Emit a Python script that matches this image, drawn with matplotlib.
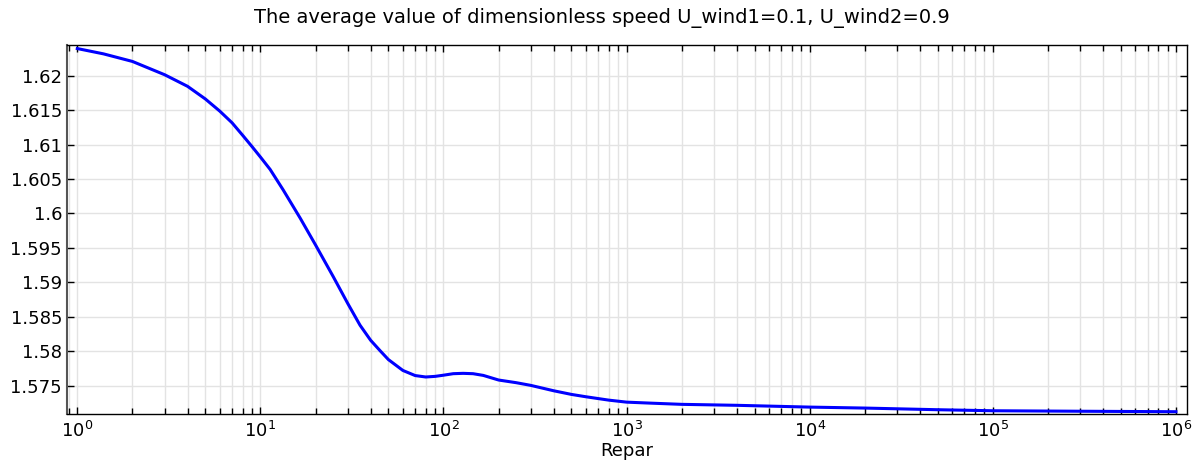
import matplotlib
matplotlib.use("Agg")
import matplotlib.pyplot as plt
from matplotlib.ticker import (LogLocator, FixedLocator, NullFormatter,
                               LogFormatterSciNotation)

# Average dimensionless speed versus Repar
repar = [1, 1.39, 2, 3, 4, 5, 6, 7, 8, 9, 10, 11.3, 13.3, 16.5, 20, 25, 30,
         35, 40, 45, 50, 60, 70, 80, 90, 100, 113, 128, 145, 165, 200, 250,
         300, 400, 500, 600, 800, 1000, 1340, 2000, 4000, 1e4, 2e4, 5e4, 1e5,
         3e5, 1e6]
speed = [1.62394, 1.62317, 1.62207, 1.62014, 1.61846, 1.61663, 1.61486,
         1.61317, 1.61135, 1.60971, 1.6082, 1.6064, 1.60345, 1.59932,
         1.59544, 1.59083, 1.58694, 1.58379, 1.5816, 1.5801, 1.5788,
         1.57722, 1.57648, 1.57627, 1.57636, 1.57653, 1.57675, 1.5768,
         1.57675, 1.5765, 1.57583, 1.57544, 1.57505, 1.57427, 1.57374,
         1.5734, 1.57291, 1.57262, 1.57248, 1.5723, 1.57216, 1.5719,
         1.57176, 1.57152, 1.57137, 1.5713, 1.57123]

x_ticks = [1, 10, 100, 1000, 1e4, 1e5, 1e6]
y_ticks = [1.575, 1.58, 1.585, 1.59, 1.595, 1.6, 1.605, 1.61, 1.615, 1.62]
y_labels = ["1.575", "1.58", "1.585", "1.59", "1.595", "1.6", "1.605",
            "1.61", "1.615", "1.62"]

fig = plt.figure(figsize=(12.04, 4.68), dpi=100)
ax = fig.add_axes([0.0556, 0.1154, 0.9303, 0.7891])

ax.plot(repar, speed, color="#0000ff", lw=2.2, solid_joinstyle="round")

ax.set_xscale("log")
ax.set_xlim(0.878, 1.15e6)
ax.set_ylim(1.5709, 1.6245)

ax.xaxis.set_major_locator(FixedLocator(x_ticks))
ax.xaxis.set_major_formatter(LogFormatterSciNotation(base=10))
ax.xaxis.set_minor_locator(LogLocator(base=10, subs=range(2, 10), numticks=100))
ax.xaxis.set_minor_formatter(NullFormatter())
ax.yaxis.set_major_locator(FixedLocator(y_ticks))
ax.set_yticklabels(y_labels)

ax.grid(True, which="major", color="#e3e3e3", lw=1)
ax.grid(True, which="minor", axis="x", color="#e3e3e3", lw=1)
ax.set_axisbelow(True)

ax.tick_params(which="both", direction="in", top=True, right=True,
               labelsize=13, colors="black")
ax.tick_params(which="major", length=5, width=1)
ax.tick_params(which="minor", length=4, width=1)
ax.tick_params(axis="x", pad=5)

for s in ax.spines.values():
    s.set_linewidth(1)
    s.set_color("black")
ax.spines["left"].set_color("#555555")
ax.spines["left"].set_linewidth(1.5)

ax.set_xlabel("Repar", fontsize=13, labelpad=1)
fig.text(0.5, 0.961,
         "The average value of dimensionless speed U_wind1=0.1, U_wind2=0.9",
         fontsize=14, ha="center", va="center")

fig.savefig("out.png", dpi=100)
